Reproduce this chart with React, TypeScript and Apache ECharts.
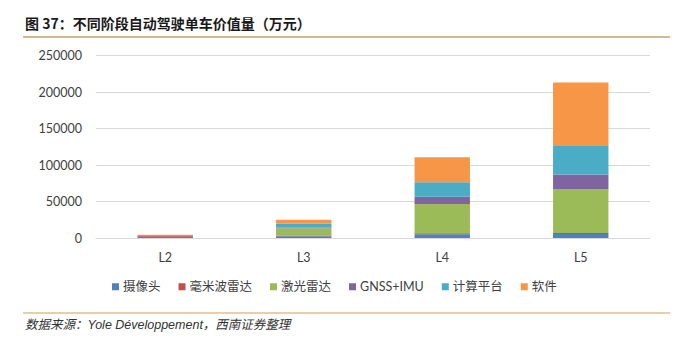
import React, { useEffect, useRef } from "react";
import * as echarts from "echarts";

const categories = ["L2", "L3", "L4", "L5"];
const camera = [1500, 2500, 5000, 5500];
const radar = [800, 1000, 1500, 1500];
const lidar = [0, 10000, 40000, 60000];
const gnss = [1200, 1000, 10000, 20000];
const compute = [500, 5000, 20000, 40000];
const software = [500, 5500, 34000, 86000];

const seriesNames = ["摄像头", "毫米波雷达", "激光雷达", "GNSS+IMU", "计算平台", "软件"];
const seriesData = [camera, radar, lidar, gnss, compute, software];
const colors = ["#4F81BD", "#C0504D", "#9BBB59", "#8064A2", "#4BACC6", "#F79646"];

const titleText = "图 37：不同阶段自动驾驶单车价值量（万元）";
const sourceText = "数据来源：Yole Développement，西南证券整理";

export default function App() {
  const ref = useRef<HTMLDivElement>(null);
  useEffect(() => {
    if (!ref.current) return;
    const chart = echarts.init(ref.current, null, { renderer: "svg" });
    const font = "Lato, 'Noto Sans CJK SC', sans-serif";
    chart.setOption({
      animation: false,
      backgroundColor: "#ffffff",
      color: colors,
      grid: { left: 96, right: 42, top: 55.5, bottom: 113 },
      xAxis: {
        type: "category",
        data: categories,
        axisLine: { lineStyle: { color: "#D9D9D9", width: 1 } },
        axisTick: { show: false },
        axisLabel: { color: "#404040", fontSize: 12.5, fontFamily: font, margin: 13 },
      },
      yAxis: {
        type: "value",
        min: 0,
        max: 250000,
        interval: 50000,
        axisLine: { show: false },
        axisTick: { show: false },
        splitLine: { lineStyle: { color: "#D9D9D9", width: 1 } },
        axisLabel: {
          color: "#404040",
          fontSize: 12.5,
          fontFamily: font,
          margin: 14,
          formatter: (v: number) => String(v),
        },
      },
      legend: {
        bottom: 53,
        left: 107,
        itemWidth: 7,
        itemHeight: 7,
        itemGap: 18,
        icon: "rect",
        textStyle: { color: "#404040", fontSize: 12.5, fontFamily: font, padding: [0, 0, 0, -1] },
        data: seriesNames,
      },
      series: seriesNames.map((name, i) => ({
        name,
        type: "bar",
        stack: "total",
        barWidth: "40%",
        data: seriesData[i],
        itemStyle: { color: colors[i] },
      })),
      graphic: [
        {
          type: "text",
          left: 25,
          top: 16,
          style: {
            text: titleText,
            font: "bold 14px 'Noto Sans CJK SC', sans-serif",
            fill: "#1a1a1a",
          },
        },
        {
          type: "line",
          shape: { x1: 23, y1: 37, x2: 670, y2: 37 },
          style: { stroke: "#C9A063", lineWidth: 1.5 },
        },
        {
          type: "line",
          shape: { x1: 23, y1: 313, x2: 670, y2: 313 },
          style: { stroke: "#C9A063", lineWidth: 1 },
        },
        {
          type: "text",
          left: 25,
          top: 319,
          style: {
            text: sourceText,
            font: "italic 12.5px 'Liberation Sans', 'Noto Sans CJK SC', sans-serif",
            fill: "#333333",
          },
        },
      ],
    });
    return () => chart.dispose();
  }, []);
  return <div ref={ref} style={{ width: 692, height: 351, position: "absolute", left: 0, top: 0 }} />;
}
